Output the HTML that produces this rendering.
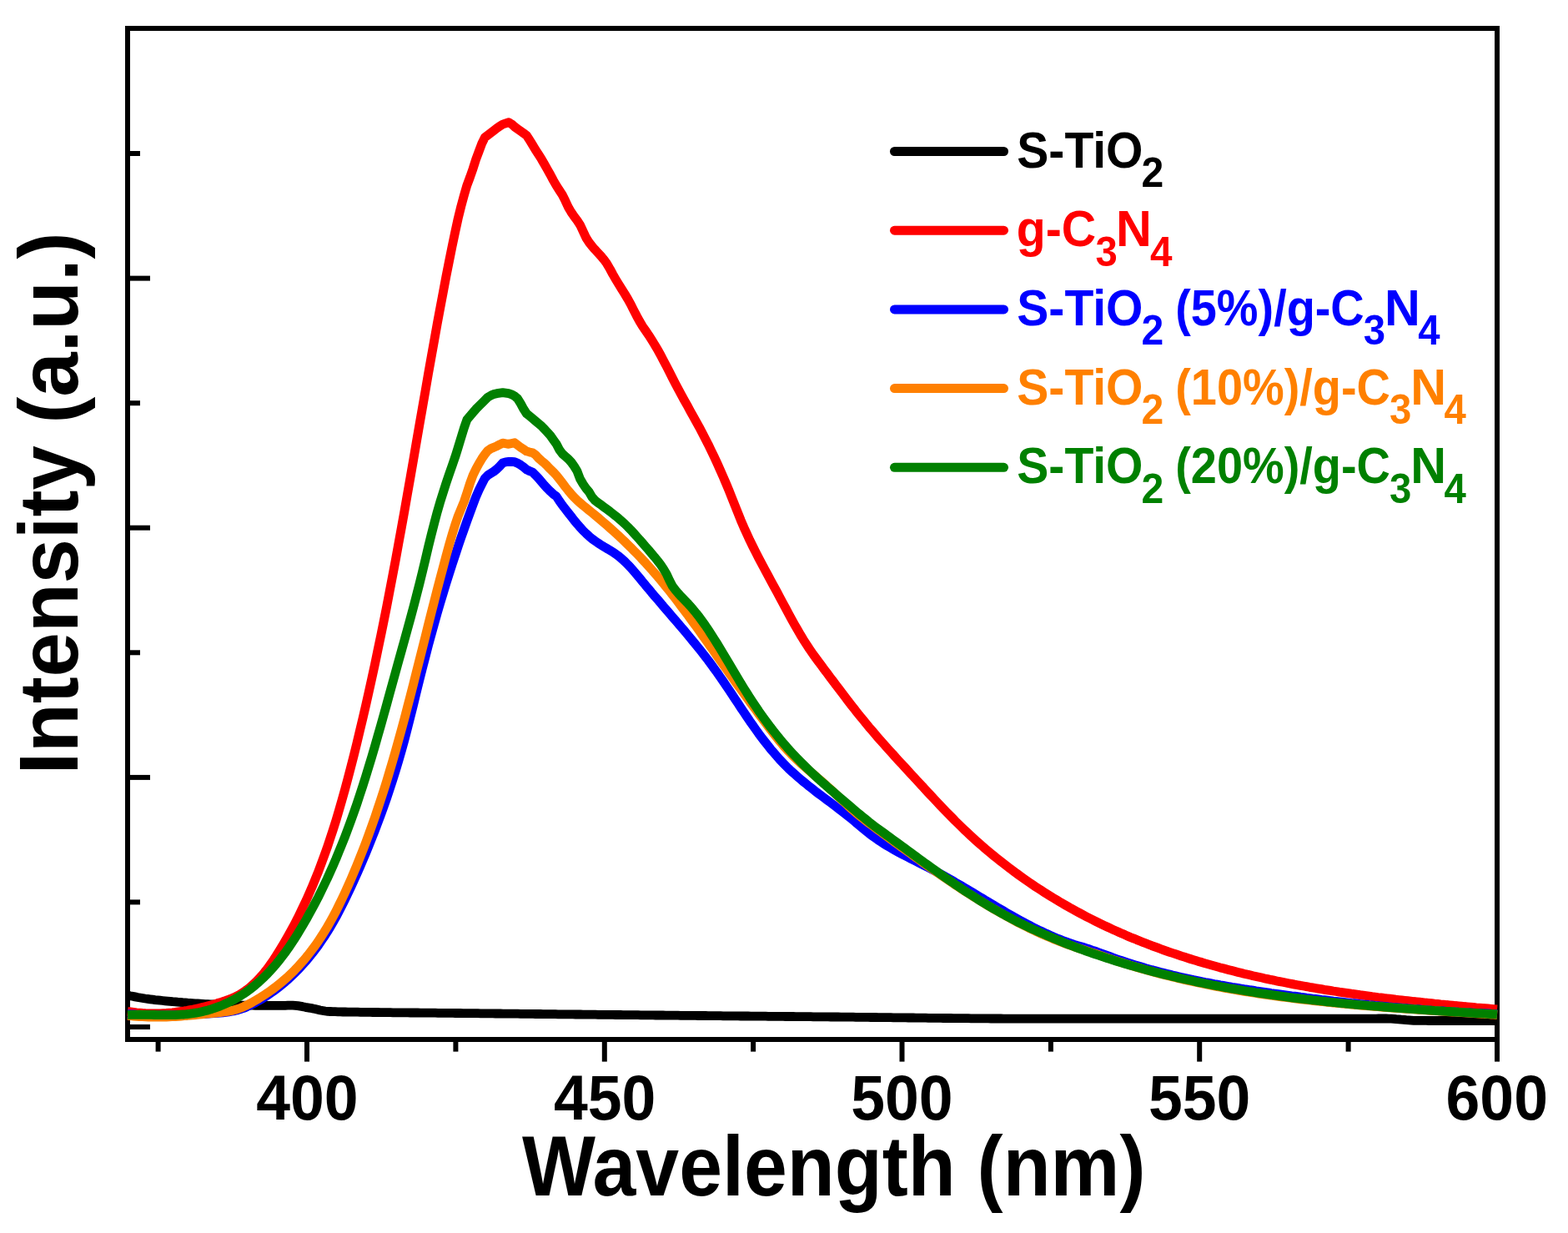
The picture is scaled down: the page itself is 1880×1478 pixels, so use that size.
<!DOCTYPE html>
<html><head><meta charset="utf-8"><title>PL spectra</title>
<style>
html,body{margin:0;padding:0;background:#fff;}
body{width:1880px;height:1478px;overflow:hidden;}
svg{display:block;}
text{font-family:"Liberation Sans",sans-serif;font-weight:bold;white-space:pre;}
</style></head><body>
<svg width="1880" height="1478" viewBox="0 0 1880 1478">
<rect width="1880" height="1478" fill="#fff"/>

<g stroke="#000" stroke-width="6" fill="none" stroke-linecap="butt">
<path d="M153,31 V1249"/>
<path d="M150,34 H1798"/>
<path d="M150,1246 H1798"/>
<path d="M1795,31 V1249"/>
</g>
<g stroke="#000" stroke-width="6" fill="none" stroke-linecap="butt" stroke-linejoin="round">
<path d="M189.6,1246 V1260.6"/>
<path d="M368.0,1246 V1272.6"/>
<path d="M546.4,1246 V1260.6"/>
<path d="M724.8,1246 V1272.6"/>
<path d="M903.1,1246 V1260.6"/>
<path d="M1081.5,1246 V1272.6"/>
<path d="M1259.9,1246 V1260.6"/>
<path d="M1438.2,1246 V1272.6"/>
<path d="M1616.6,1246 V1260.6"/>
<path d="M1795.0,1246 V1272.6"/>
<path d="M153,1231.0 H180"/>
<path d="M153,1081.4 H168"/>
<path d="M153,931.9 H180"/>
<path d="M153,782.3 H168"/>
<path d="M153,632.7 H180"/>
<path d="M153,483.2 H168"/>
<path d="M153,333.6 H180"/>
<path d="M153,184.0 H168"/>
</g>
<g fill="none" stroke-width="10.8" stroke-linejoin="round" stroke-linecap="butt">
<path stroke="#000" d="M153.0,1193.0 L156.0,1193.7 L159.0,1194.3 L162.0,1194.9 L165.0,1195.5 L168.0,1196.0 L171.0,1196.5 L174.0,1197.0 L177.0,1197.4 L180.0,1197.8 L183.0,1198.2 L186.0,1198.6 L189.0,1198.9 L192.0,1199.2 L195.0,1199.5 L198.0,1199.8 L201.0,1200.1 L204.0,1200.4 L207.0,1200.7 L210.0,1200.9 L213.0,1201.2 L216.0,1201.4 L219.0,1201.7 L222.0,1201.9 L225.0,1202.2 L228.0,1202.4 L231.0,1202.6 L234.0,1202.8 L237.0,1203.0 L240.0,1203.2 L243.0,1203.4 L246.0,1203.6 L249.0,1203.7 L252.0,1203.9 L255.0,1204.0 L258.0,1204.1 L261.0,1204.2 L264.0,1204.3 L267.0,1204.4 L270.0,1204.5 L273.0,1204.6 L276.0,1204.7 L279.0,1204.8 L282.0,1204.9 L285.0,1204.9 L288.0,1205.0 L291.0,1205.1 L294.0,1205.1 L297.0,1205.2 L300.0,1205.2 L303.0,1205.2 L306.0,1205.3 L309.0,1205.3 L312.0,1205.3 L315.0,1205.3 L318.0,1205.4 L321.0,1205.4 L324.0,1205.4 L327.0,1205.4 L330.0,1205.4 L333.0,1205.4 L336.0,1205.4 L339.0,1205.3 L342.0,1205.3 L345.0,1205.2 L348.0,1205.2 L351.0,1205.2 L354.0,1205.4 L357.0,1205.7 L360.0,1206.2 L363.0,1206.7 L366.0,1207.3 L369.0,1207.8 L372.0,1208.3 L375.0,1208.9 L378.0,1209.6 L381.0,1210.3 L384.0,1211.0 L387.0,1211.5 L390.0,1212.0 L393.0,1212.4 L396.0,1212.5 L399.0,1212.6 L402.0,1212.7 L405.0,1212.8 L408.0,1212.9 L411.0,1213.0 L414.0,1213.0 L417.0,1213.1 L420.0,1213.1 L423.0,1213.2 L426.0,1213.2 L429.0,1213.2 L432.0,1213.3 L435.0,1213.3 L438.0,1213.4 L441.0,1213.4 L444.0,1213.4 L447.0,1213.5 L450.0,1213.5 L453.0,1213.5 L456.0,1213.6 L459.0,1213.6 L462.0,1213.7 L465.0,1213.7 L468.0,1213.7 L471.0,1213.8 L474.0,1213.8 L477.0,1213.8 L480.0,1213.8 L483.0,1213.9 L486.0,1213.9 L489.0,1213.9 L492.0,1214.0 L495.0,1214.0 L498.0,1214.0 L501.0,1214.0 L504.0,1214.1 L507.0,1214.1 L510.0,1214.1 L513.0,1214.2 L516.0,1214.2 L519.0,1214.2 L522.0,1214.2 L525.0,1214.3 L528.0,1214.3 L531.0,1214.3 L534.0,1214.3 L537.0,1214.4 L540.0,1214.4 L543.0,1214.4 L546.0,1214.5 L549.0,1214.5 L552.0,1214.5 L555.0,1214.6 L558.0,1214.6 L561.0,1214.6 L564.0,1214.6 L567.0,1214.7 L570.0,1214.7 L573.0,1214.7 L576.0,1214.8 L579.0,1214.8 L582.0,1214.8 L585.0,1214.9 L588.0,1214.9 L591.0,1214.9 L594.0,1215.0 L597.0,1215.0 L600.0,1215.0 L603.0,1215.1 L606.0,1215.1 L609.0,1215.1 L612.0,1215.1 L615.0,1215.2 L618.0,1215.2 L621.0,1215.2 L624.0,1215.3 L627.0,1215.3 L630.0,1215.3 L633.0,1215.4 L636.0,1215.4 L639.0,1215.4 L642.0,1215.5 L645.0,1215.5 L648.0,1215.5 L651.0,1215.6 L654.0,1215.6 L657.0,1215.6 L660.0,1215.7 L663.0,1215.7 L666.0,1215.7 L669.0,1215.8 L672.0,1215.8 L675.0,1215.8 L678.0,1215.8 L681.0,1215.9 L684.0,1215.9 L687.0,1215.9 L690.0,1216.0 L693.0,1216.0 L696.0,1216.0 L699.0,1216.1 L702.0,1216.1 L705.0,1216.1 L708.0,1216.2 L711.0,1216.2 L714.0,1216.2 L717.0,1216.3 L720.0,1216.3 L723.0,1216.3 L726.0,1216.4 L729.0,1216.4 L732.0,1216.4 L735.0,1216.4 L738.0,1216.5 L741.0,1216.5 L744.0,1216.5 L747.0,1216.6 L750.0,1216.6 L753.0,1216.6 L756.0,1216.7 L759.0,1216.7 L762.0,1216.7 L765.0,1216.7 L768.0,1216.8 L771.0,1216.8 L774.0,1216.8 L777.0,1216.9 L780.0,1216.9 L783.0,1216.9 L786.0,1217.0 L789.0,1217.0 L792.0,1217.0 L795.0,1217.0 L798.0,1217.1 L801.0,1217.1 L804.0,1217.1 L807.0,1217.2 L810.0,1217.2 L813.0,1217.2 L816.0,1217.3 L819.0,1217.3 L822.0,1217.3 L825.0,1217.3 L828.0,1217.4 L831.0,1217.4 L834.0,1217.4 L837.0,1217.5 L840.0,1217.5 L843.0,1217.5 L846.0,1217.5 L849.0,1217.6 L852.0,1217.6 L855.0,1217.6 L858.0,1217.7 L861.0,1217.7 L864.0,1217.7 L867.0,1217.8 L870.0,1217.8 L873.0,1217.8 L876.0,1217.8 L879.0,1217.9 L882.0,1217.9 L885.0,1217.9 L888.0,1218.0 L891.0,1218.0 L894.0,1218.0 L897.0,1218.0 L900.0,1218.1 L903.0,1218.1 L906.0,1218.1 L909.0,1218.2 L912.0,1218.2 L915.0,1218.2 L918.0,1218.2 L921.0,1218.3 L924.0,1218.3 L927.0,1218.3 L930.0,1218.4 L933.0,1218.4 L936.0,1218.4 L939.0,1218.4 L942.0,1218.5 L945.0,1218.5 L948.0,1218.5 L951.0,1218.5 L954.0,1218.6 L957.0,1218.6 L960.0,1218.6 L963.0,1218.7 L966.0,1218.7 L969.0,1218.7 L972.0,1218.7 L975.0,1218.8 L978.0,1218.8 L981.0,1218.8 L984.0,1218.9 L987.0,1218.9 L990.0,1218.9 L993.0,1218.9 L996.0,1219.0 L999.0,1219.0 L1002.0,1219.0 L1005.0,1219.0 L1008.0,1219.1 L1011.0,1219.1 L1014.0,1219.1 L1017.0,1219.2 L1020.0,1219.2 L1023.0,1219.2 L1026.0,1219.3 L1029.0,1219.3 L1032.0,1219.3 L1035.0,1219.4 L1038.0,1219.4 L1041.0,1219.4 L1044.0,1219.5 L1047.0,1219.5 L1050.0,1219.5 L1053.0,1219.6 L1056.0,1219.6 L1059.0,1219.6 L1062.0,1219.7 L1065.0,1219.7 L1068.0,1219.7 L1071.0,1219.8 L1074.0,1219.8 L1077.0,1219.8 L1080.0,1219.9 L1083.0,1219.9 L1086.0,1219.9 L1089.0,1220.0 L1092.0,1220.0 L1095.0,1220.0 L1098.0,1220.1 L1101.0,1220.1 L1104.0,1220.2 L1107.0,1220.2 L1110.0,1220.2 L1113.0,1220.3 L1116.0,1220.3 L1119.0,1220.3 L1122.0,1220.4 L1125.0,1220.4 L1128.0,1220.4 L1131.0,1220.5 L1134.0,1220.5 L1137.0,1220.5 L1140.0,1220.5 L1143.0,1220.6 L1146.0,1220.6 L1149.0,1220.6 L1152.0,1220.7 L1155.0,1220.7 L1158.0,1220.7 L1161.0,1220.7 L1164.0,1220.8 L1167.0,1220.8 L1170.0,1220.8 L1173.0,1220.9 L1176.0,1220.9 L1179.0,1220.9 L1182.0,1220.9 L1185.0,1220.9 L1188.0,1221.0 L1191.0,1221.0 L1194.0,1221.0 L1197.0,1221.0 L1200.0,1221.0 L1203.0,1221.1 L1206.0,1221.1 L1209.0,1221.1 L1212.0,1221.1 L1215.0,1221.1 L1218.0,1221.1 L1221.0,1221.1 L1224.0,1221.2 L1227.0,1221.2 L1230.0,1221.2 L1233.0,1221.2 L1236.0,1221.2 L1239.0,1221.2 L1242.0,1221.2 L1245.0,1221.2 L1248.0,1221.2 L1251.0,1221.2 L1254.0,1221.2 L1257.0,1221.2 L1260.0,1221.2 L1263.0,1221.2 L1266.0,1221.2 L1269.0,1221.2 L1272.0,1221.2 L1275.0,1221.2 L1278.0,1221.2 L1281.0,1221.2 L1284.0,1221.2 L1287.0,1221.2 L1290.0,1221.2 L1293.0,1221.2 L1296.0,1221.2 L1299.0,1221.2 L1302.0,1221.2 L1305.0,1221.2 L1308.0,1221.2 L1311.0,1221.2 L1314.0,1221.2 L1317.0,1221.2 L1320.0,1221.2 L1323.0,1221.2 L1326.0,1221.2 L1329.0,1221.2 L1332.0,1221.2 L1335.0,1221.2 L1338.0,1221.2 L1341.0,1221.2 L1344.0,1221.2 L1347.0,1221.2 L1350.0,1221.2 L1353.0,1221.2 L1356.0,1221.2 L1359.0,1221.2 L1362.0,1221.2 L1365.0,1221.2 L1368.0,1221.2 L1371.0,1221.2 L1374.0,1221.2 L1377.0,1221.2 L1380.0,1221.2 L1383.0,1221.2 L1386.0,1221.2 L1389.0,1221.2 L1392.0,1221.2 L1395.0,1221.2 L1398.0,1221.2 L1401.0,1221.2 L1404.0,1221.2 L1407.0,1221.2 L1410.0,1221.2 L1413.0,1221.2 L1416.0,1221.2 L1419.0,1221.2 L1422.0,1221.2 L1425.0,1221.2 L1428.0,1221.2 L1431.0,1221.2 L1434.0,1221.2 L1437.0,1221.2 L1440.0,1221.2 L1443.0,1221.2 L1446.0,1221.2 L1449.0,1221.2 L1452.0,1221.2 L1455.0,1221.2 L1458.0,1221.2 L1461.0,1221.2 L1464.0,1221.2 L1467.0,1221.2 L1470.0,1221.2 L1473.0,1221.2 L1476.0,1221.2 L1479.0,1221.2 L1482.0,1221.2 L1485.0,1221.2 L1488.0,1221.2 L1491.0,1221.2 L1494.0,1221.2 L1497.0,1221.2 L1500.0,1221.2 L1503.0,1221.2 L1506.0,1221.2 L1509.0,1221.2 L1512.0,1221.2 L1515.0,1221.2 L1518.0,1221.2 L1521.0,1221.2 L1524.0,1221.2 L1527.0,1221.2 L1530.0,1221.2 L1533.0,1221.2 L1536.0,1221.2 L1539.0,1221.2 L1542.0,1221.2 L1545.0,1221.2 L1548.0,1221.2 L1551.0,1221.2 L1554.0,1221.2 L1557.0,1221.2 L1560.0,1221.2 L1563.0,1221.2 L1566.0,1221.2 L1569.0,1221.2 L1572.0,1221.2 L1575.0,1221.2 L1578.0,1221.2 L1581.0,1221.2 L1584.0,1221.2 L1587.0,1221.2 L1590.0,1221.2 L1593.0,1221.2 L1596.0,1221.2 L1599.0,1221.2 L1602.0,1221.2 L1605.0,1221.2 L1608.0,1221.2 L1611.0,1221.2 L1614.0,1221.2 L1617.0,1221.2 L1620.0,1221.2 L1623.0,1221.2 L1626.0,1221.2 L1629.0,1221.2 L1632.0,1221.2 L1635.0,1221.2 L1638.0,1221.2 L1641.0,1221.1 L1644.0,1221.1 L1647.0,1221.1 L1650.0,1221.1 L1653.0,1221.0 L1656.0,1221.0 L1659.0,1221.0 L1662.0,1221.0 L1665.0,1221.1 L1668.0,1221.2 L1671.0,1221.4 L1674.0,1221.7 L1677.0,1221.9 L1680.0,1222.2 L1683.0,1222.4 L1686.0,1222.7 L1689.0,1222.9 L1692.0,1223.1 L1695.0,1223.3 L1698.0,1223.4 L1701.0,1223.4 L1704.0,1223.4 L1707.0,1223.4 L1710.0,1223.4 L1713.0,1223.5 L1716.0,1223.5 L1719.0,1223.5 L1722.0,1223.5 L1725.0,1223.5 L1728.0,1223.5 L1731.0,1223.5 L1734.0,1223.5 L1737.0,1223.5 L1740.0,1223.5 L1743.0,1223.5 L1746.0,1223.6 L1749.0,1223.6 L1752.0,1223.6 L1755.0,1223.6 L1758.0,1223.6 L1761.0,1223.6 L1764.0,1223.6 L1767.0,1223.6 L1770.0,1223.6 L1773.0,1223.6 L1776.0,1223.6 L1779.0,1223.6 L1782.0,1223.6 L1785.0,1223.6 L1788.0,1223.6 L1791.0,1223.6 L1794.0,1223.6 L1796.0,1223.6"/>
<path stroke="#f00" d="M153.0,1212.4 L156.6,1212.9 L160.1,1213.4 L163.7,1213.9 L167.3,1214.2 L170.8,1214.5 L174.4,1214.7 L178.0,1214.8 L181.6,1214.9 L185.1,1214.9 L188.7,1214.9 L192.3,1214.8 L195.8,1214.6 L199.4,1214.4 L203.0,1214.1 L206.5,1213.8 L210.1,1213.4 L213.7,1212.9 L217.3,1212.4 L220.8,1211.9 L224.4,1211.3 L228.0,1210.6 L231.5,1210.0 L235.1,1209.2 L238.7,1208.4 L242.2,1207.6 L245.8,1206.7 L249.4,1205.8 L252.9,1204.9 L256.5,1203.9 L260.1,1202.8 L263.7,1201.8 L267.2,1200.6 L270.8,1199.4 L274.4,1198.1 L277.9,1196.7 L281.5,1195.1 L285.1,1193.4 L288.6,1191.4 L292.2,1189.1 L295.8,1186.5 L299.4,1183.7 L302.9,1180.6 L306.5,1177.3 L310.1,1173.6 L313.6,1169.7 L317.2,1165.4 L320.8,1160.8 L324.3,1155.9 L327.9,1150.7 L331.5,1145.2 L335.0,1139.5 L338.6,1133.7 L342.2,1127.6 L345.8,1121.3 L349.3,1114.9 L352.9,1108.2 L356.5,1101.3 L360.0,1094.2 L363.6,1086.7 L367.2,1079.1 L370.7,1071.1 L374.3,1062.8 L377.9,1054.2 L381.5,1045.2 L385.0,1035.9 L388.6,1026.2 L392.2,1016.2 L395.7,1005.6 L399.3,994.7 L402.9,983.3 L406.4,971.4 L410.0,959.1 L413.6,946.3 L417.1,933.1 L420.7,919.4 L424.3,905.3 L427.9,890.8 L431.4,876.1 L435.0,861.0 L438.6,845.5 L442.1,829.8 L445.7,813.6 L449.3,797.1 L452.8,780.2 L456.4,763.0 L460.0,745.3 L463.6,727.4 L467.1,709.0 L470.7,690.3 L474.3,671.3 L477.8,651.9 L481.4,632.2 L485.0,612.3 L488.5,592.1 L492.1,571.7 L495.7,551.1 L499.2,530.5 L502.8,509.8 L506.4,489.2 L510.0,468.6 L513.5,448.2 L517.1,428.0 L520.7,408.0 L524.2,388.3 L527.8,369.0 L531.4,350.0 L534.9,331.3 L538.5,313.1 L542.1,295.3 L545.7,278.1 L549.2,262.0 L552.8,247.4 L556.4,234.1 L559.9,222.1 L563.5,212.5 L567.1,202.2 L570.6,191.1 L574.2,181.5 L577.8,171.9 L581.3,164.8 L584.9,162.0 L588.5,159.2 L592.1,156.4 L595.6,153.7 L599.2,151.3 L602.8,149.0 L606.3,147.8 L609.9,146.7 L613.5,148.8 L617.0,152.0 L620.6,154.6 L624.2,157.2 L627.8,159.7 L631.3,162.3 L634.9,167.7 L638.5,173.6 L642.0,179.5 L645.6,185.0 L649.2,190.7 L652.7,196.8 L656.3,203.1 L659.9,209.5 L663.4,216.1 L667.0,222.4 L670.6,228.0 L674.2,233.5 L677.7,240.4 L681.3,248.2 L684.9,254.4 L688.4,259.5 L692.0,264.3 L695.6,269.8 L699.1,277.3 L702.7,285.0 L706.3,290.6 L709.9,295.2 L713.4,299.2 L717.0,303.1 L720.6,307.0 L724.1,311.2 L727.7,316.2 L731.3,322.4 L734.8,328.9 L738.4,335.1 L742.0,341.0 L745.5,346.7 L749.1,352.4 L752.7,358.4 L756.3,364.8 L759.8,371.8 L763.4,378.8 L767.0,385.4 L770.5,391.2 L774.1,396.4 L777.7,401.7 L781.2,407.2 L784.8,413.0 L788.4,419.1 L792.0,425.5 L795.5,432.2 L799.1,439.0 L802.7,446.0 L806.2,453.0 L809.8,459.9 L813.4,466.7 L816.9,473.3 L820.5,479.8 L824.1,486.2 L827.6,492.7 L831.2,499.1 L834.8,505.6 L838.4,512.1 L841.9,518.8 L845.5,525.7 L849.1,532.7 L852.6,540.0 L856.2,547.4 L859.8,555.1 L863.3,563.0 L866.9,571.1 L870.5,579.5 L874.1,588.1 L877.6,596.9 L881.2,605.9 L884.8,614.9 L888.3,623.8 L891.9,632.2 L895.5,640.1 L899.0,647.7 L902.6,655.0 L906.2,662.1 L909.7,669.0 L913.3,675.8 L916.9,682.5 L920.5,689.1 L924.0,695.7 L927.6,702.3 L931.2,708.9 L934.7,715.5 L938.3,722.2 L941.9,728.9 L945.4,735.6 L949.0,742.2 L952.6,748.6 L956.2,754.8 L959.7,760.9 L963.3,766.8 L966.9,772.4 L970.4,777.8 L974.0,783.0 L977.6,788.0 L981.1,792.8 L984.7,797.6 L988.3,802.4 L991.8,807.1 L995.4,811.9 L999.0,816.6 L1002.6,821.4 L1006.1,826.1 L1009.7,830.8 L1013.3,835.5 L1016.8,840.2 L1020.4,844.8 L1024.0,849.3 L1027.5,853.9 L1031.1,858.3 L1034.7,862.7 L1038.3,867.1 L1041.8,871.4 L1045.4,875.6 L1049.0,879.8 L1052.5,883.9 L1056.1,888.0 L1059.7,892.0 L1063.2,896.0 L1066.8,900.0 L1070.4,903.9 L1073.9,907.9 L1077.5,911.8 L1081.1,915.6 L1084.7,919.5 L1088.2,923.4 L1091.8,927.3 L1095.4,931.1 L1098.9,935.0 L1102.5,938.9 L1106.1,942.7 L1109.6,946.6 L1113.2,950.5 L1116.8,954.3 L1120.4,958.1 L1123.9,961.9 L1127.5,965.7 L1131.1,969.4 L1134.6,973.1 L1138.2,976.8 L1141.8,980.4 L1145.3,984.0 L1148.9,987.5 L1152.5,991.0 L1156.0,994.5 L1159.6,997.8 L1163.2,1001.2 L1166.8,1004.5 L1170.3,1007.7 L1173.9,1010.9 L1177.5,1014.0 L1181.0,1017.1 L1184.6,1020.1 L1188.2,1023.1 L1191.7,1026.0 L1195.3,1028.9 L1198.9,1031.8 L1202.5,1034.6 L1206.0,1037.3 L1209.6,1040.1 L1213.2,1042.7 L1216.7,1045.4 L1220.3,1048.0 L1223.9,1050.6 L1227.4,1053.1 L1231.0,1055.6 L1234.6,1058.1 L1238.1,1060.5 L1241.7,1062.9 L1245.3,1065.2 L1248.9,1067.6 L1252.4,1069.9 L1256.0,1072.1 L1259.6,1074.3 L1263.1,1076.5 L1266.7,1078.7 L1270.3,1080.8 L1273.8,1082.9 L1277.4,1085.0 L1281.0,1087.0 L1284.6,1089.1 L1288.1,1091.0 L1291.7,1093.0 L1295.3,1094.9 L1298.8,1096.8 L1302.4,1098.7 L1306.0,1100.5 L1309.5,1102.3 L1313.1,1104.1 L1316.7,1105.9 L1320.2,1107.6 L1323.8,1109.3 L1327.4,1111.0 L1331.0,1112.7 L1334.5,1114.3 L1338.1,1115.9 L1341.7,1117.5 L1345.2,1119.1 L1348.8,1120.6 L1352.4,1122.2 L1355.9,1123.7 L1359.5,1125.1 L1363.1,1126.6 L1366.7,1128.0 L1370.2,1129.4 L1373.8,1130.8 L1377.4,1132.2 L1380.9,1133.6 L1384.5,1134.9 L1388.1,1136.2 L1391.6,1137.5 L1395.2,1138.8 L1398.8,1140.1 L1402.3,1141.3 L1405.9,1142.5 L1409.5,1143.7 L1413.1,1144.9 L1416.6,1146.1 L1420.2,1147.2 L1423.8,1148.4 L1427.3,1149.5 L1430.9,1150.6 L1434.5,1151.7 L1438.0,1152.8 L1441.6,1153.8 L1445.2,1154.9 L1448.8,1155.9 L1452.3,1156.9 L1455.9,1157.9 L1459.5,1158.9 L1463.0,1159.9 L1466.6,1160.8 L1470.2,1161.8 L1473.7,1162.7 L1477.3,1163.6 L1480.9,1164.5 L1484.4,1165.4 L1488.0,1166.3 L1491.6,1167.2 L1495.2,1168.0 L1498.7,1168.8 L1502.3,1169.7 L1505.9,1170.5 L1509.4,1171.3 L1513.0,1172.1 L1516.6,1172.9 L1520.1,1173.6 L1523.7,1174.4 L1527.3,1175.1 L1530.9,1175.9 L1534.4,1176.6 L1538.0,1177.3 L1541.6,1178.0 L1545.1,1178.7 L1548.7,1179.4 L1552.3,1180.1 L1555.8,1180.7 L1559.4,1181.4 L1563.0,1182.0 L1566.5,1182.6 L1570.1,1183.3 L1573.7,1183.9 L1577.3,1184.5 L1580.8,1185.1 L1584.4,1185.7 L1588.0,1186.3 L1591.5,1186.8 L1595.1,1187.4 L1598.7,1188.0 L1602.2,1188.5 L1605.8,1189.1 L1609.4,1189.6 L1613.0,1190.1 L1616.5,1190.6 L1620.1,1191.2 L1623.7,1191.7 L1627.2,1192.2 L1630.8,1192.7 L1634.4,1193.1 L1637.9,1193.6 L1641.5,1194.1 L1645.1,1194.6 L1648.6,1195.0 L1652.2,1195.5 L1655.8,1195.9 L1659.4,1196.4 L1662.9,1196.8 L1666.5,1197.2 L1670.1,1197.6 L1673.6,1198.1 L1677.2,1198.5 L1680.8,1198.9 L1684.3,1199.3 L1687.9,1199.7 L1691.5,1200.1 L1695.1,1200.5 L1698.6,1200.8 L1702.2,1201.2 L1705.8,1201.6 L1709.3,1202.0 L1712.9,1202.3 L1716.5,1202.7 L1720.0,1203.1 L1723.6,1203.4 L1727.2,1203.8 L1730.7,1204.1 L1734.3,1204.5 L1737.9,1204.8 L1741.5,1205.1 L1745.0,1205.5 L1748.6,1205.8 L1752.2,1206.1 L1755.7,1206.5 L1759.3,1206.8 L1762.9,1207.1 L1766.4,1207.4 L1770.0,1207.8 L1773.6,1208.1 L1777.2,1208.4 L1780.7,1208.7 L1784.3,1209.0 L1787.9,1209.3 L1791.4,1209.6 L1795.0,1209.9"/>
<path stroke="#00f" d="M153.0,1215.5 L156.6,1215.8 L160.1,1216.0 L163.7,1216.2 L167.3,1216.3 L170.8,1216.5 L174.4,1216.6 L178.0,1216.7 L181.6,1216.8 L185.1,1216.8 L188.7,1216.9 L192.3,1216.9 L195.8,1216.9 L199.4,1216.9 L203.0,1216.8 L206.5,1216.8 L210.1,1216.7 L213.7,1216.6 L217.3,1216.6 L220.8,1216.4 L224.4,1216.3 L228.0,1216.2 L231.5,1216.0 L235.1,1215.9 L238.7,1215.7 L242.2,1215.5 L245.8,1215.3 L249.4,1215.1 L252.9,1214.9 L256.5,1214.6 L260.1,1214.4 L263.7,1214.1 L267.2,1213.8 L270.8,1213.4 L274.4,1212.9 L277.9,1212.3 L281.5,1211.6 L285.1,1210.7 L288.6,1209.6 L292.2,1208.4 L295.8,1206.9 L299.4,1205.2 L302.9,1203.4 L306.5,1201.6 L310.1,1199.6 L313.6,1197.5 L317.2,1195.3 L320.8,1193.0 L324.3,1190.6 L327.9,1188.1 L331.5,1185.4 L335.0,1182.7 L338.6,1179.8 L342.2,1176.8 L345.8,1173.6 L349.3,1170.3 L352.9,1166.9 L356.5,1163.3 L360.0,1159.5 L363.6,1155.6 L367.2,1151.6 L370.7,1147.3 L374.3,1142.9 L377.9,1138.2 L381.5,1133.4 L385.0,1128.3 L388.6,1123.0 L392.2,1117.4 L395.7,1111.6 L399.3,1105.5 L402.9,1099.1 L406.4,1092.5 L410.0,1085.6 L413.6,1078.4 L417.1,1071.0 L420.7,1063.4 L424.3,1055.6 L427.9,1047.6 L431.4,1039.5 L435.0,1031.2 L438.6,1022.7 L442.1,1014.0 L445.7,1005.1 L449.3,996.0 L452.8,986.6 L456.4,977.0 L460.0,967.1 L463.6,956.9 L467.1,946.3 L470.7,935.3 L474.3,923.9 L477.8,912.1 L481.4,899.7 L485.0,886.7 L488.5,873.1 L492.1,859.0 L495.7,844.6 L499.2,830.1 L502.8,815.5 L506.4,801.2 L510.0,787.3 L513.5,773.7 L517.1,760.5 L520.7,747.6 L524.2,735.1 L527.8,722.8 L531.4,710.9 L534.9,699.2 L538.5,687.8 L542.1,676.6 L545.7,665.7 L549.2,655.1 L552.8,644.6 L556.4,634.4 L559.9,624.4 L563.5,614.6 L567.1,604.9 L570.6,595.7 L574.2,587.4 L577.8,580.2 L581.3,573.4 L584.9,569.6 L588.5,567.4 L592.1,565.1 L595.6,562.4 L599.2,558.9 L602.8,554.9 L606.3,553.8 L609.9,553.4 L613.5,553.5 L617.0,553.7 L620.6,555.3 L624.2,557.3 L627.8,559.9 L631.3,562.9 L634.9,564.7 L638.5,566.0 L642.0,569.5 L645.6,573.2 L649.2,577.4 L652.7,581.6 L656.3,585.5 L659.9,589.1 L663.4,592.3 L667.0,594.9 L670.6,600.4 L674.2,605.5 L677.7,610.0 L681.3,614.6 L684.9,619.2 L688.4,623.7 L692.0,628.0 L695.6,632.1 L699.1,636.0 L702.7,639.5 L706.3,642.8 L709.9,645.8 L713.4,648.4 L717.0,650.9 L720.6,653.2 L724.1,655.4 L727.7,657.5 L731.3,659.6 L734.8,661.8 L738.4,664.2 L742.0,666.9 L745.5,669.9 L749.1,673.1 L752.7,676.7 L756.3,680.5 L759.8,684.5 L763.4,688.7 L767.0,693.0 L770.5,697.3 L774.1,701.7 L777.7,705.9 L781.2,710.2 L784.8,714.4 L788.4,718.6 L792.0,722.8 L795.5,727.0 L799.1,731.1 L802.7,735.3 L806.2,739.4 L809.8,743.6 L813.4,747.7 L816.9,751.9 L820.5,756.1 L824.1,760.4 L827.6,764.7 L831.2,769.0 L834.8,773.4 L838.4,777.8 L841.9,782.3 L845.5,786.9 L849.1,791.5 L852.6,796.3 L856.2,801.2 L859.8,806.1 L863.3,811.2 L866.9,816.4 L870.5,821.7 L874.1,827.0 L877.6,832.3 L881.2,837.7 L884.8,843.1 L888.3,848.5 L891.9,853.8 L895.5,859.1 L899.0,864.3 L902.6,869.4 L906.2,874.5 L909.7,879.4 L913.3,884.2 L916.9,888.9 L920.5,893.4 L924.0,897.9 L927.6,902.1 L931.2,906.2 L934.7,910.2 L938.3,914.0 L941.9,917.7 L945.4,921.2 L949.0,924.6 L952.6,927.8 L956.2,931.0 L959.7,934.0 L963.3,937.0 L966.9,939.9 L970.4,942.8 L974.0,945.6 L977.6,948.4 L981.1,951.1 L984.7,953.8 L988.3,956.5 L991.8,959.1 L995.4,961.8 L999.0,964.5 L1002.6,967.2 L1006.1,969.9 L1009.7,972.6 L1013.3,975.4 L1016.8,978.2 L1020.4,981.1 L1024.0,984.0 L1027.5,987.1 L1031.1,990.1 L1034.7,993.1 L1038.3,996.0 L1041.8,998.9 L1045.4,1001.6 L1049.0,1004.2 L1052.5,1006.7 L1056.1,1009.1 L1059.7,1011.4 L1063.2,1013.6 L1066.8,1015.7 L1070.4,1017.7 L1073.9,1019.7 L1077.5,1021.7 L1081.1,1023.6 L1084.7,1025.5 L1088.2,1027.3 L1091.8,1029.2 L1095.4,1031.0 L1098.9,1032.8 L1102.5,1034.6 L1106.1,1036.4 L1109.6,1038.2 L1113.2,1040.0 L1116.8,1041.8 L1120.4,1043.7 L1123.9,1045.6 L1127.5,1047.5 L1131.1,1049.5 L1134.6,1051.5 L1138.2,1053.5 L1141.8,1055.5 L1145.3,1057.6 L1148.9,1059.6 L1152.5,1061.7 L1156.0,1063.8 L1159.6,1065.9 L1163.2,1068.1 L1166.8,1070.2 L1170.3,1072.3 L1173.9,1074.5 L1177.5,1076.6 L1181.0,1078.8 L1184.6,1080.9 L1188.2,1083.1 L1191.7,1085.2 L1195.3,1087.3 L1198.9,1089.4 L1202.5,1091.5 L1206.0,1093.6 L1209.6,1095.6 L1213.2,1097.7 L1216.7,1099.7 L1220.3,1101.7 L1223.9,1103.7 L1227.4,1105.6 L1231.0,1107.5 L1234.6,1109.4 L1238.1,1111.2 L1241.7,1113.0 L1245.3,1114.8 L1248.9,1116.5 L1252.4,1118.2 L1256.0,1119.8 L1259.6,1121.4 L1263.1,1123.0 L1266.7,1124.5 L1270.3,1125.9 L1273.8,1127.3 L1277.4,1128.6 L1281.0,1129.9 L1284.6,1131.1 L1288.1,1132.3 L1291.7,1133.4 L1295.3,1134.4 L1298.8,1135.5 L1302.4,1136.6 L1306.0,1137.7 L1309.5,1139.0 L1313.1,1140.2 L1316.7,1141.5 L1320.2,1142.8 L1323.8,1144.1 L1327.4,1145.4 L1331.0,1146.7 L1334.5,1148.0 L1338.1,1149.3 L1341.7,1150.5 L1345.2,1151.7 L1348.8,1152.9 L1352.4,1154.1 L1355.9,1155.2 L1359.5,1156.3 L1363.1,1157.4 L1366.7,1158.5 L1370.2,1159.5 L1373.8,1160.6 L1377.4,1161.6 L1380.9,1162.6 L1384.5,1163.5 L1388.1,1164.5 L1391.6,1165.4 L1395.2,1166.3 L1398.8,1167.2 L1402.3,1168.1 L1405.9,1169.0 L1409.5,1169.8 L1413.1,1170.7 L1416.6,1171.5 L1420.2,1172.3 L1423.8,1173.1 L1427.3,1173.8 L1430.9,1174.6 L1434.5,1175.3 L1438.0,1176.0 L1441.6,1176.8 L1445.2,1177.5 L1448.8,1178.1 L1452.3,1178.8 L1455.9,1179.5 L1459.5,1180.1 L1463.0,1180.8 L1466.6,1181.4 L1470.2,1182.0 L1473.7,1182.7 L1477.3,1183.3 L1480.9,1183.8 L1484.4,1184.4 L1488.0,1185.0 L1491.6,1185.6 L1495.2,1186.1 L1498.7,1186.7 L1502.3,1187.2 L1505.9,1187.8 L1509.4,1188.3 L1513.0,1188.8 L1516.6,1189.3 L1520.1,1189.8 L1523.7,1190.4 L1527.3,1190.9 L1530.9,1191.3 L1534.4,1191.8 L1538.0,1192.3 L1541.6,1192.8 L1545.1,1193.3 L1548.7,1193.8 L1552.3,1194.2 L1555.8,1194.7 L1559.4,1195.2 L1563.0,1195.6 L1566.5,1196.1 L1570.1,1196.5 L1573.7,1197.0 L1577.3,1197.4 L1580.8,1197.8 L1584.4,1198.3 L1588.0,1198.7 L1591.5,1199.1 L1595.1,1199.5 L1598.7,1200.0 L1602.2,1200.4 L1605.8,1200.8 L1609.4,1201.2 L1613.0,1201.6 L1616.5,1202.0 L1620.1,1202.4 L1623.7,1202.7 L1627.2,1203.1 L1630.8,1203.5 L1634.4,1203.9 L1637.9,1204.2 L1641.5,1204.6 L1645.1,1204.9 L1648.6,1205.3 L1652.2,1205.6 L1655.8,1206.0 L1659.4,1206.3 L1662.9,1206.6 L1666.5,1207.0 L1670.1,1207.3 L1673.6,1207.6 L1677.2,1207.9 L1680.8,1208.2 L1684.3,1208.5 L1687.9,1208.8 L1691.5,1209.1 L1695.1,1209.4 L1698.6,1209.7 L1702.2,1210.0 L1705.8,1210.3 L1709.3,1210.5 L1712.9,1210.8 L1716.5,1211.1 L1720.0,1211.3 L1723.6,1211.6 L1727.2,1211.8 L1730.7,1212.0 L1734.3,1212.3 L1737.9,1212.5 L1741.5,1212.7 L1745.0,1212.9 L1748.6,1213.2 L1752.2,1213.4 L1755.7,1213.6 L1759.3,1213.8 L1762.9,1214.0 L1766.4,1214.1 L1770.0,1214.3 L1773.6,1214.5 L1777.2,1214.7 L1780.7,1214.8 L1784.3,1215.0 L1787.9,1215.2 L1791.4,1215.3 L1795.0,1215.5"/>
<path stroke="#ff8000" d="M153.0,1217.4 L156.6,1217.7 L160.1,1218.0 L163.7,1218.3 L167.3,1218.5 L170.8,1218.7 L174.4,1218.9 L178.0,1219.0 L181.6,1219.1 L185.1,1219.1 L188.7,1219.1 L192.3,1219.1 L195.8,1219.1 L199.4,1219.0 L203.0,1218.8 L206.5,1218.7 L210.1,1218.5 L213.7,1218.3 L217.3,1218.0 L220.8,1217.7 L224.4,1217.5 L228.0,1217.1 L231.5,1216.8 L235.1,1216.5 L238.7,1216.1 L242.2,1215.8 L245.8,1215.4 L249.4,1215.0 L252.9,1214.7 L256.5,1214.3 L260.1,1214.0 L263.7,1213.6 L267.2,1213.2 L270.8,1212.7 L274.4,1212.1 L277.9,1211.4 L281.5,1210.5 L285.1,1209.5 L288.6,1208.2 L292.2,1206.7 L295.8,1205.0 L299.4,1203.1 L302.9,1201.2 L306.5,1199.1 L310.1,1197.0 L313.6,1194.8 L317.2,1192.5 L320.8,1190.1 L324.3,1187.6 L327.9,1185.0 L331.5,1182.3 L335.0,1179.5 L338.6,1176.5 L342.2,1173.4 L345.8,1170.2 L349.3,1166.8 L352.9,1163.3 L356.5,1159.6 L360.0,1155.7 L363.6,1151.7 L367.2,1147.4 L370.7,1143.0 L374.3,1138.3 L377.9,1133.5 L381.5,1128.4 L385.0,1123.0 L388.6,1117.4 L392.2,1111.5 L395.7,1105.3 L399.3,1098.8 L402.9,1092.1 L406.4,1085.0 L410.0,1077.7 L413.6,1070.0 L417.1,1062.2 L420.7,1054.1 L424.3,1045.7 L427.9,1037.1 L431.4,1028.3 L435.0,1019.3 L438.6,1009.9 L442.1,1000.3 L445.7,990.4 L449.3,980.2 L452.8,969.7 L456.4,958.9 L460.0,947.8 L463.6,936.3 L467.1,924.6 L470.7,912.5 L474.3,900.1 L477.8,887.4 L481.4,874.4 L485.0,861.1 L488.5,847.6 L492.1,833.8 L495.7,819.9 L499.2,805.8 L502.8,791.6 L506.4,777.4 L510.0,763.1 L513.5,748.9 L517.1,734.7 L520.7,720.7 L524.2,706.8 L527.8,693.1 L531.4,679.6 L534.9,666.3 L538.5,653.3 L542.1,640.7 L545.7,629.0 L549.2,618.8 L552.8,610.0 L556.4,601.2 L559.9,590.7 L563.5,579.3 L567.1,569.6 L570.6,562.4 L574.2,555.7 L577.8,549.7 L581.3,544.7 L584.9,540.2 L588.5,537.8 L592.1,536.2 L595.6,534.8 L599.2,532.8 L602.8,531.1 L606.3,531.7 L609.9,532.3 L613.5,531.5 L617.0,530.7 L620.6,533.5 L624.2,536.2 L627.8,538.6 L631.3,540.9 L634.9,541.9 L638.5,542.7 L642.0,545.1 L645.6,549.1 L649.2,552.3 L652.7,555.2 L656.3,558.7 L659.9,562.4 L663.4,565.8 L667.0,569.6 L670.6,574.1 L674.2,578.8 L677.7,583.5 L681.3,588.0 L684.9,592.3 L688.4,596.2 L692.0,599.7 L695.6,602.9 L699.1,605.9 L702.7,608.8 L706.3,611.7 L709.9,614.6 L713.4,617.5 L717.0,620.5 L720.6,623.6 L724.1,626.6 L727.7,629.7 L731.3,632.9 L734.8,636.1 L738.4,639.3 L742.0,642.6 L745.5,645.9 L749.1,649.3 L752.7,652.8 L756.3,656.3 L759.8,659.9 L763.4,663.5 L767.0,667.2 L770.5,671.0 L774.1,674.8 L777.7,678.8 L781.2,682.8 L784.8,686.9 L788.4,691.0 L792.0,695.3 L795.5,699.6 L799.1,704.0 L802.7,708.4 L806.2,712.9 L809.8,717.5 L813.4,722.2 L816.9,726.9 L820.5,731.6 L824.1,736.4 L827.6,741.3 L831.2,746.2 L834.8,751.1 L838.4,756.1 L841.9,761.1 L845.5,766.1 L849.1,771.1 L852.6,776.2 L856.2,781.2 L859.8,786.3 L863.3,791.4 L866.9,796.4 L870.5,801.5 L874.1,806.5 L877.6,811.5 L881.2,816.5 L884.8,821.5 L888.3,826.4 L891.9,831.4 L895.5,836.3 L899.0,841.2 L902.6,846.0 L906.2,850.9 L909.7,855.7 L913.3,860.5 L916.9,865.2 L920.5,870.0 L924.0,874.7 L927.6,879.3 L931.2,883.9 L934.7,888.3 L938.3,892.6 L941.9,896.7 L945.4,900.6 L949.0,904.4 L952.6,907.9 L956.2,911.3 L959.7,914.6 L963.3,917.8 L966.9,921.0 L970.4,924.0 L974.0,927.1 L977.6,930.1 L981.1,933.2 L984.7,936.2 L988.3,939.4 L991.8,942.5 L995.4,945.8 L999.0,949.1 L1002.6,952.5 L1006.1,955.9 L1009.7,959.3 L1013.3,962.6 L1016.8,965.9 L1020.4,969.1 L1024.0,972.3 L1027.5,975.3 L1031.1,978.2 L1034.7,981.1 L1038.3,983.9 L1041.8,986.6 L1045.4,989.3 L1049.0,992.0 L1052.5,994.6 L1056.1,997.2 L1059.7,999.8 L1063.2,1002.4 L1066.8,1005.0 L1070.4,1007.7 L1073.9,1010.3 L1077.5,1012.9 L1081.1,1015.5 L1084.7,1018.1 L1088.2,1020.6 L1091.8,1023.2 L1095.4,1025.8 L1098.9,1028.4 L1102.5,1030.9 L1106.1,1033.5 L1109.6,1036.0 L1113.2,1038.6 L1116.8,1041.1 L1120.4,1043.6 L1123.9,1046.1 L1127.5,1048.5 L1131.1,1051.0 L1134.6,1053.4 L1138.2,1055.9 L1141.8,1058.3 L1145.3,1060.7 L1148.9,1063.0 L1152.5,1065.4 L1156.0,1067.7 L1159.6,1070.0 L1163.2,1072.3 L1166.8,1074.6 L1170.3,1076.8 L1173.9,1079.0 L1177.5,1081.2 L1181.0,1083.4 L1184.6,1085.6 L1188.2,1087.7 L1191.7,1089.8 L1195.3,1091.8 L1198.9,1093.9 L1202.5,1095.9 L1206.0,1097.9 L1209.6,1099.9 L1213.2,1101.8 L1216.7,1103.7 L1220.3,1105.6 L1223.9,1107.4 L1227.4,1109.2 L1231.0,1111.0 L1234.6,1112.8 L1238.1,1114.5 L1241.7,1116.2 L1245.3,1117.8 L1248.9,1119.5 L1252.4,1121.0 L1256.0,1122.6 L1259.6,1124.1 L1263.1,1125.6 L1266.7,1127.0 L1270.3,1128.4 L1273.8,1129.8 L1277.4,1131.2 L1281.0,1132.5 L1284.6,1133.7 L1288.1,1134.9 L1291.7,1136.1 L1295.3,1137.3 L1298.8,1138.4 L1302.4,1139.6 L1306.0,1140.8 L1309.5,1142.0 L1313.1,1143.2 L1316.7,1144.4 L1320.2,1145.6 L1323.8,1146.9 L1327.4,1148.1 L1331.0,1149.3 L1334.5,1150.5 L1338.1,1151.7 L1341.7,1152.9 L1345.2,1154.0 L1348.8,1155.1 L1352.4,1156.2 L1355.9,1157.3 L1359.5,1158.4 L1363.1,1159.5 L1366.7,1160.5 L1370.2,1161.6 L1373.8,1162.6 L1377.4,1163.6 L1380.9,1164.5 L1384.5,1165.5 L1388.1,1166.5 L1391.6,1167.4 L1395.2,1168.3 L1398.8,1169.2 L1402.3,1170.1 L1405.9,1171.0 L1409.5,1171.8 L1413.1,1172.7 L1416.6,1173.5 L1420.2,1174.4 L1423.8,1175.2 L1427.3,1176.0 L1430.9,1176.7 L1434.5,1177.5 L1438.0,1178.3 L1441.6,1179.0 L1445.2,1179.8 L1448.8,1180.5 L1452.3,1181.2 L1455.9,1181.9 L1459.5,1182.6 L1463.0,1183.2 L1466.6,1183.9 L1470.2,1184.6 L1473.7,1185.2 L1477.3,1185.8 L1480.9,1186.5 L1484.4,1187.1 L1488.0,1187.7 L1491.6,1188.3 L1495.2,1188.8 L1498.7,1189.4 L1502.3,1190.0 L1505.9,1190.5 L1509.4,1191.1 L1513.0,1191.6 L1516.6,1192.1 L1520.1,1192.6 L1523.7,1193.1 L1527.3,1193.6 L1530.9,1194.1 L1534.4,1194.6 L1538.0,1195.1 L1541.6,1195.5 L1545.1,1196.0 L1548.7,1196.4 L1552.3,1196.9 L1555.8,1197.3 L1559.4,1197.8 L1563.0,1198.2 L1566.5,1198.6 L1570.1,1199.0 L1573.7,1199.4 L1577.3,1199.8 L1580.8,1200.2 L1584.4,1200.5 L1588.0,1200.9 L1591.5,1201.3 L1595.1,1201.7 L1598.7,1202.0 L1602.2,1202.4 L1605.8,1202.7 L1609.4,1203.0 L1613.0,1203.4 L1616.5,1203.7 L1620.1,1204.0 L1623.7,1204.3 L1627.2,1204.7 L1630.8,1205.0 L1634.4,1205.3 L1637.9,1205.6 L1641.5,1205.9 L1645.1,1206.2 L1648.6,1206.5 L1652.2,1206.7 L1655.8,1207.0 L1659.4,1207.3 L1662.9,1207.6 L1666.5,1207.8 L1670.1,1208.1 L1673.6,1208.4 L1677.2,1208.6 L1680.8,1208.9 L1684.3,1209.2 L1687.9,1209.4 L1691.5,1209.7 L1695.1,1209.9 L1698.6,1210.2 L1702.2,1210.4 L1705.8,1210.6 L1709.3,1210.9 L1712.9,1211.1 L1716.5,1211.4 L1720.0,1211.6 L1723.6,1211.8 L1727.2,1212.1 L1730.7,1212.3 L1734.3,1212.5 L1737.9,1212.8 L1741.5,1213.0 L1745.0,1213.2 L1748.6,1213.4 L1752.2,1213.7 L1755.7,1213.9 L1759.3,1214.1 L1762.9,1214.4 L1766.4,1214.6 L1770.0,1214.8 L1773.6,1215.1 L1777.2,1215.3 L1780.7,1215.5 L1784.3,1215.7 L1787.9,1216.0 L1791.4,1216.2 L1795.0,1216.5"/>
<path stroke="#008000" d="M153.0,1216.6 L156.6,1216.4 L160.1,1216.3 L163.7,1216.3 L167.3,1216.2 L170.8,1216.3 L174.4,1216.3 L178.0,1216.4 L181.6,1216.4 L185.1,1216.5 L188.7,1216.6 L192.3,1216.7 L195.8,1216.7 L199.4,1216.7 L203.0,1216.7 L206.5,1216.7 L210.1,1216.6 L213.7,1216.4 L217.3,1216.2 L220.8,1216.0 L224.4,1215.6 L228.0,1215.2 L231.5,1214.7 L235.1,1214.1 L238.7,1213.5 L242.2,1212.7 L245.8,1211.8 L249.4,1210.9 L252.9,1209.8 L256.5,1208.7 L260.1,1207.4 L263.7,1206.1 L267.2,1204.6 L270.8,1203.0 L274.4,1201.4 L277.9,1199.6 L281.5,1197.7 L285.1,1195.6 L288.6,1193.5 L292.2,1191.2 L295.8,1188.7 L299.4,1186.1 L302.9,1183.4 L306.5,1180.5 L310.1,1177.4 L313.6,1174.1 L317.2,1170.7 L320.8,1167.1 L324.3,1163.3 L327.9,1159.3 L331.5,1155.2 L335.0,1150.8 L338.6,1146.2 L342.2,1141.4 L345.8,1136.4 L349.3,1131.2 L352.9,1125.8 L356.5,1120.1 L360.0,1114.3 L363.6,1108.3 L367.2,1102.1 L370.7,1095.7 L374.3,1089.2 L377.9,1082.4 L381.5,1075.5 L385.0,1068.4 L388.6,1061.0 L392.2,1053.5 L395.7,1045.7 L399.3,1037.7 L402.9,1029.4 L406.4,1020.8 L410.0,1012.0 L413.6,1002.9 L417.1,993.6 L420.7,983.9 L424.3,973.9 L427.9,963.6 L431.4,952.9 L435.0,942.0 L438.6,930.7 L442.1,919.1 L445.7,907.3 L449.3,895.1 L452.8,882.8 L456.4,870.2 L460.0,857.4 L463.6,844.5 L467.1,831.6 L470.7,818.6 L474.3,805.6 L477.8,792.8 L481.4,780.0 L485.0,767.1 L488.5,754.3 L492.1,741.2 L495.7,727.9 L499.2,714.3 L502.8,700.3 L506.4,685.7 L510.0,670.7 L513.5,655.7 L517.1,641.1 L520.7,627.1 L524.2,613.9 L527.8,601.6 L531.4,590.1 L534.9,579.1 L538.5,568.5 L542.1,558.2 L545.7,547.8 L549.2,536.6 L552.8,524.7 L556.4,513.0 L559.9,502.9 L563.5,498.7 L567.1,494.5 L570.6,490.4 L574.2,486.8 L577.8,483.2 L581.3,479.7 L584.9,476.1 L588.5,474.1 L592.1,472.6 L595.6,471.7 L599.2,471.2 L602.8,470.7 L606.3,471.2 L609.9,471.7 L613.5,472.9 L617.0,474.7 L620.6,477.9 L624.2,483.7 L627.8,490.3 L631.3,495.7 L634.9,498.6 L638.5,501.6 L642.0,504.6 L645.6,507.6 L649.2,510.6 L652.7,514.3 L656.3,518.1 L659.9,522.1 L663.4,527.1 L667.0,532.1 L670.6,539.0 L674.2,543.9 L677.7,547.0 L681.3,550.1 L684.9,554.0 L688.4,558.9 L692.0,564.8 L695.6,574.3 L699.1,580.3 L702.7,585.5 L706.3,589.8 L709.9,595.9 L713.4,599.9 L717.0,602.6 L720.6,605.2 L724.1,607.8 L727.7,610.4 L731.3,613.1 L734.8,615.9 L738.4,618.7 L742.0,621.7 L745.5,624.8 L749.1,628.0 L752.7,631.5 L756.3,635.2 L759.8,639.0 L763.4,643.0 L767.0,647.0 L770.5,651.1 L774.1,655.2 L777.7,659.3 L781.2,663.5 L784.8,667.7 L788.4,672.1 L792.0,676.8 L795.5,682.0 L799.1,688.0 L802.7,695.8 L806.2,702.5 L809.8,707.3 L813.4,711.5 L816.9,715.3 L820.5,719.0 L824.1,722.7 L827.6,726.6 L831.2,730.8 L834.8,735.1 L838.4,739.7 L841.9,744.5 L845.5,749.5 L849.1,754.8 L852.6,760.2 L856.2,765.8 L859.8,771.5 L863.3,777.3 L866.9,783.2 L870.5,789.2 L874.1,795.2 L877.6,801.3 L881.2,807.3 L884.8,813.2 L888.3,819.2 L891.9,825.0 L895.5,830.7 L899.0,836.3 L902.6,841.7 L906.2,847.0 L909.7,852.3 L913.3,857.3 L916.9,862.3 L920.5,867.2 L924.0,871.9 L927.6,876.5 L931.2,881.0 L934.7,885.4 L938.3,889.7 L941.9,893.8 L945.4,897.9 L949.0,901.8 L952.6,905.6 L956.2,909.4 L959.7,913.0 L963.3,916.6 L966.9,920.1 L970.4,923.5 L974.0,926.9 L977.6,930.2 L981.1,933.4 L984.7,936.7 L988.3,939.8 L991.8,943.0 L995.4,946.1 L999.0,949.2 L1002.6,952.3 L1006.1,955.3 L1009.7,958.4 L1013.3,961.4 L1016.8,964.4 L1020.4,967.4 L1024.0,970.5 L1027.5,973.5 L1031.1,976.5 L1034.7,979.4 L1038.3,982.3 L1041.8,985.2 L1045.4,988.0 L1049.0,990.7 L1052.5,993.3 L1056.1,995.9 L1059.7,998.5 L1063.2,1001.1 L1066.8,1003.7 L1070.4,1006.3 L1073.9,1008.9 L1077.5,1011.5 L1081.1,1014.1 L1084.7,1016.7 L1088.2,1019.3 L1091.8,1021.9 L1095.4,1024.6 L1098.9,1027.2 L1102.5,1029.8 L1106.1,1032.4 L1109.6,1035.0 L1113.2,1037.5 L1116.8,1040.1 L1120.4,1042.7 L1123.9,1045.2 L1127.5,1047.8 L1131.1,1050.3 L1134.6,1052.8 L1138.2,1055.3 L1141.8,1057.7 L1145.3,1060.2 L1148.9,1062.6 L1152.5,1065.0 L1156.0,1067.4 L1159.6,1069.7 L1163.2,1072.0 L1166.8,1074.3 L1170.3,1076.6 L1173.9,1078.9 L1177.5,1081.1 L1181.0,1083.2 L1184.6,1085.4 L1188.2,1087.5 L1191.7,1089.6 L1195.3,1091.6 L1198.9,1093.7 L1202.5,1095.6 L1206.0,1097.6 L1209.6,1099.5 L1213.2,1101.4 L1216.7,1103.2 L1220.3,1105.1 L1223.9,1106.9 L1227.4,1108.6 L1231.0,1110.4 L1234.6,1112.1 L1238.1,1113.8 L1241.7,1115.4 L1245.3,1117.0 L1248.9,1118.6 L1252.4,1120.2 L1256.0,1121.8 L1259.6,1123.3 L1263.1,1124.8 L1266.7,1126.3 L1270.3,1127.8 L1273.8,1129.2 L1277.4,1130.7 L1281.0,1132.1 L1284.6,1133.4 L1288.1,1134.8 L1291.7,1136.1 L1295.3,1137.5 L1298.8,1138.8 L1302.4,1140.1 L1306.0,1141.3 L1309.5,1142.6 L1313.1,1143.8 L1316.7,1145.0 L1320.2,1146.2 L1323.8,1147.4 L1327.4,1148.6 L1331.0,1149.7 L1334.5,1150.9 L1338.1,1152.0 L1341.7,1153.1 L1345.2,1154.2 L1348.8,1155.3 L1352.4,1156.3 L1355.9,1157.4 L1359.5,1158.4 L1363.1,1159.4 L1366.7,1160.4 L1370.2,1161.4 L1373.8,1162.4 L1377.4,1163.3 L1380.9,1164.3 L1384.5,1165.2 L1388.1,1166.1 L1391.6,1167.0 L1395.2,1167.9 L1398.8,1168.8 L1402.3,1169.6 L1405.9,1170.5 L1409.5,1171.3 L1413.1,1172.2 L1416.6,1173.0 L1420.2,1173.8 L1423.8,1174.6 L1427.3,1175.3 L1430.9,1176.1 L1434.5,1176.9 L1438.0,1177.6 L1441.6,1178.3 L1445.2,1179.1 L1448.8,1179.8 L1452.3,1180.5 L1455.9,1181.2 L1459.5,1181.8 L1463.0,1182.5 L1466.6,1183.2 L1470.2,1183.8 L1473.7,1184.5 L1477.3,1185.1 L1480.9,1185.7 L1484.4,1186.3 L1488.0,1186.9 L1491.6,1187.5 L1495.2,1188.1 L1498.7,1188.7 L1502.3,1189.2 L1505.9,1189.8 L1509.4,1190.3 L1513.0,1190.9 L1516.6,1191.4 L1520.1,1191.9 L1523.7,1192.4 L1527.3,1192.9 L1530.9,1193.4 L1534.4,1193.9 L1538.0,1194.4 L1541.6,1194.9 L1545.1,1195.4 L1548.7,1195.8 L1552.3,1196.3 L1555.8,1196.7 L1559.4,1197.2 L1563.0,1197.6 L1566.5,1198.0 L1570.1,1198.4 L1573.7,1198.8 L1577.3,1199.2 L1580.8,1199.6 L1584.4,1200.0 L1588.0,1200.4 L1591.5,1200.8 L1595.1,1201.2 L1598.7,1201.5 L1602.2,1201.9 L1605.8,1202.3 L1609.4,1202.6 L1613.0,1203.0 L1616.5,1203.3 L1620.1,1203.6 L1623.7,1204.0 L1627.2,1204.3 L1630.8,1204.6 L1634.4,1204.9 L1637.9,1205.2 L1641.5,1205.6 L1645.1,1205.9 L1648.6,1206.2 L1652.2,1206.4 L1655.8,1206.7 L1659.4,1207.0 L1662.9,1207.3 L1666.5,1207.6 L1670.1,1207.9 L1673.6,1208.1 L1677.2,1208.4 L1680.8,1208.7 L1684.3,1208.9 L1687.9,1209.2 L1691.5,1209.4 L1695.1,1209.7 L1698.6,1209.9 L1702.2,1210.2 L1705.8,1210.4 L1709.3,1210.7 L1712.9,1210.9 L1716.5,1211.1 L1720.0,1211.4 L1723.6,1211.6 L1727.2,1211.8 L1730.7,1212.1 L1734.3,1212.3 L1737.9,1212.5 L1741.5,1212.7 L1745.0,1213.0 L1748.6,1213.2 L1752.2,1213.4 L1755.7,1213.6 L1759.3,1213.8 L1762.9,1214.0 L1766.4,1214.3 L1770.0,1214.5 L1773.6,1214.7 L1777.2,1214.9 L1780.7,1215.1 L1784.3,1215.3 L1787.9,1215.5 L1791.4,1215.7 L1795.0,1216.0"/>
</g>
<g stroke-width="11" stroke-linecap="round" fill="none">
<path stroke="#000" d="M1072.5,181.5 H1203.5"/>
<path stroke="#f00" d="M1072.5,276.2 H1203.5"/>
<path stroke="#00f" d="M1072.5,370.9 H1203.5"/>
<path stroke="#ff8000" d="M1072.5,465.6 H1203.5"/>
<path stroke="#008000" d="M1072.5,560.3 H1203.5"/>
</g>
<g id="leg0">
<text transform="translate(1219.29,200.70) scale(1,1.0612)" font-size="57.09" fill="#000">S-TiO</text>
<text transform="translate(1368.42,223.90) scale(1,1.0510)" font-size="48.13" fill="#000">2</text>
</g>
<g id="leg1">
<text transform="translate(1218.71,295.35) scale(1,1.0583)" font-size="57.24" fill="#f00">g-C</text>
<text transform="translate(1313.62,318.55) scale(1,1.0700)" font-size="47.27" fill="#f00">3</text>
<text transform="translate(1338.04,295.35) scale(1,1.0212)" font-size="59.32" fill="#f00">N</text>
<text transform="translate(1378.99,318.55) scale(1,1.0612)" font-size="47.66" fill="#f00">4</text>
</g>
<g id="leg2">
<text transform="translate(1219.29,390.00) scale(1,1.0612)" font-size="57.09" fill="#00f">S-TiO</text>
<text transform="translate(1368.42,413.20) scale(1,1.0510)" font-size="48.13" fill="#00f">2</text>
<text transform="translate(1409.21,390.00) scale(1,1.0842)" font-size="55.87" fill="#00f">(5%)/g-C</text>
<text transform="translate(1634.82,413.20) scale(1,1.0700)" font-size="47.27" fill="#00f">3</text>
<text transform="translate(1659.94,390.00) scale(1,1.0212)" font-size="59.32" fill="#00f">N</text>
<text transform="translate(1700.19,413.20) scale(1,1.0696)" font-size="47.29" fill="#00f">4</text>
</g>
<g id="leg3">
<text transform="translate(1219.29,484.65) scale(1,1.0612)" font-size="57.09" fill="#ff8000">S-TiO</text>
<text transform="translate(1368.42,507.85) scale(1,1.0510)" font-size="48.13" fill="#ff8000">2</text>
<text transform="translate(1409.20,484.65) scale(1,1.0834)" font-size="55.92" fill="#ff8000">(10%)/g-C</text>
<text transform="translate(1666.02,507.85) scale(1,1.0700)" font-size="47.27" fill="#ff8000">3</text>
<text transform="translate(1691.14,484.65) scale(1,1.0212)" font-size="59.32" fill="#ff8000">N</text>
<text transform="translate(1731.39,507.85) scale(1,1.0696)" font-size="47.29" fill="#ff8000">4</text>
</g>
<g id="leg4">
<text transform="translate(1219.29,579.30) scale(1,1.0612)" font-size="57.09" fill="#008000">S-TiO</text>
<text transform="translate(1368.42,602.50) scale(1,1.0510)" font-size="48.13" fill="#008000">2</text>
<text transform="translate(1409.20,579.30) scale(1,1.0834)" font-size="55.92" fill="#008000">(20%)/g-C</text>
<text transform="translate(1666.02,602.50) scale(1,1.0700)" font-size="47.27" fill="#008000">3</text>
<text transform="translate(1691.14,579.30) scale(1,1.0212)" font-size="59.32" fill="#008000">N</text>
<text transform="translate(1731.39,602.50) scale(1,1.0696)" font-size="47.29" fill="#008000">4</text>
</g>
<text transform="translate(307.23,1341.60) scale(1,1.0386)" font-size="73.40" fill="#000">400</text>
<text transform="translate(663.98,1341.60) scale(1,1.0386)" font-size="73.40" fill="#000">450</text>
<text transform="translate(1020.18,1341.60) scale(1,1.0386)" font-size="73.40" fill="#000">500</text>
<text transform="translate(1376.93,1341.60) scale(1,1.0386)" font-size="73.40" fill="#000">550</text>
<text transform="translate(1733.49,1341.60) scale(1,1.0386)" font-size="73.40" fill="#000">600</text>
<text transform="translate(626.00,1432.80) scale(1,1.0850)" font-size="93.24" fill="#000">Wavelength (nm)</text>
<text transform="translate(93.1,928.53) rotate(-90) scale(1,1.0457)" font-size="95.90" fill="#000">Intensity (a.u.)</text>
</svg></body></html>
